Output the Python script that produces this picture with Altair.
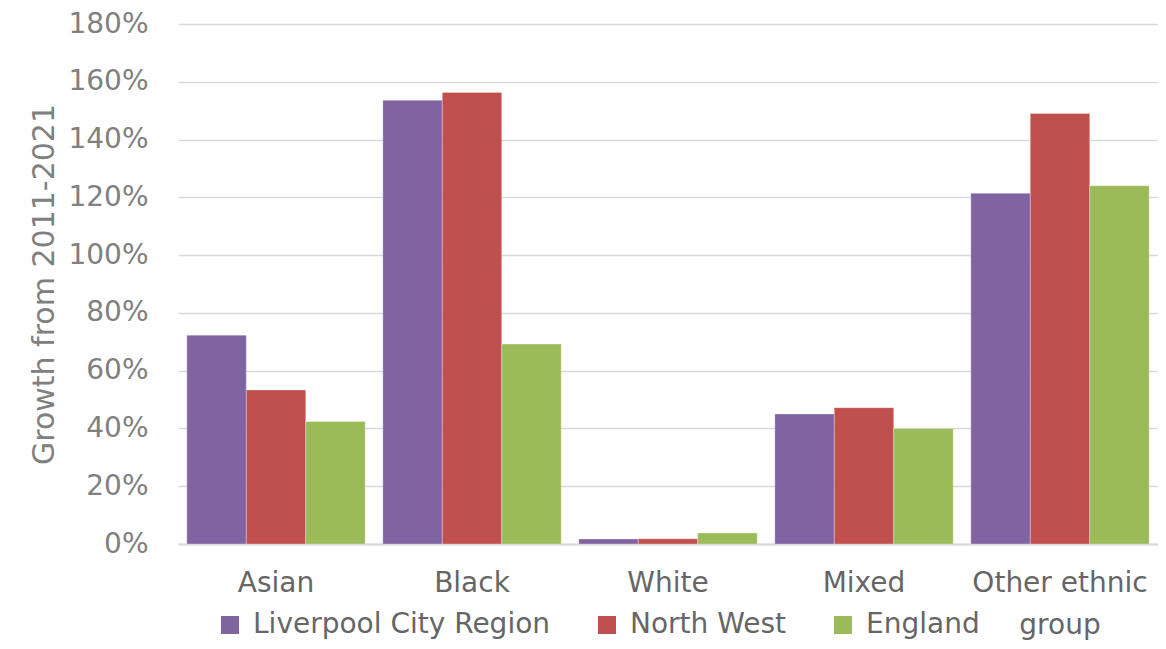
import altair as alt
import pandas as pd

categories = ["Asian", "Black", "White", "Mixed", "Other ethnic group"]
series = ["Liverpool City Region", "North West", "England"]
lcr = [72.3, 153.6, 1.7, 45.0, 121.4]
nw = [53.3, 156.3, 1.8, 47.2, 149.0]
eng = [42.4, 69.2, 3.8, 40.0, 124.0]
colors = ["#8064A2", "#C0504D", "#9BBB59"]
y_ticks = [0, 20, 40, 60, 80, 100, 120, 140, 160, 180]

rows = []
for s, vals in zip(series, [lcr, nw, eng]):
    for c, v in zip(categories, vals):
        rows.append({"category": c, "series": s, "value": v})
df = pd.DataFrame(rows)

font = "DejaVu Sans"

chart = alt.Chart(df).mark_bar(stroke="white", strokeWidth=0.6, strokeOpacity=0.5).encode(
    x=alt.X("category:N", sort=categories,
            scale=alt.Scale(paddingInner=0.09, paddingOuter=0.045),
            axis=alt.Axis(title=None, labelAngle=0, ticks=False, domain=True,
                          domainColor="#d9d9d9", domainWidth=2,
                          labelFontSize=28, labelColor="#666666", labelFont=font,
                          labelPadding=25, labelLineHeight=42, labelLimit=400,
                          labelExpr="datum.label == 'Other ethnic group' ? ['Other ethnic', 'group'] : datum.label")),
    xOffset=alt.XOffset("series:N", sort=series, scale=alt.Scale(paddingInner=0, paddingOuter=0)),
    y=alt.Y("value:Q", scale=alt.Scale(domain=[0, 180], nice=False),
            axis=alt.Axis(title="Growth from 2011-2021", values=y_ticks,
                          labelExpr="datum.value + '%'",
                          ticks=False, domain=False, grid=True,
                          gridColor="#d9d9d9", gridWidth=1.5,
                          labelFontSize=28, labelColor="#808080", labelFont=font,
                          labelPadding=30,
                          titleFontSize=30, titleColor="#808080", titleFont=font,
                          titleFontWeight="normal", titlePadding=8)),
    color=alt.Color("series:N", sort=series,
                    scale=alt.Scale(domain=series, range=colors),
                    legend=alt.Legend(title=None, orient="none", legendX=38, legendY=587,
                                      direction="horizontal", symbolType="square",
                                      symbolSize=324, symbolStrokeWidth=0,
                                      labelFontSize=28, labelColor="#666666", labelFont=font,
                                      labelOffset=9, columnPadding=42, labelLimit=400)),
).properties(
    width=980, height=520,
    padding={"left": 170, "top": 16, "right": 0, "bottom": 97},
    autosize=alt.AutoSizeParams(type="none"),
).configure_view(stroke=None)

chart.save("out.html", embed_options={"renderer": "svg", "actions": False})
